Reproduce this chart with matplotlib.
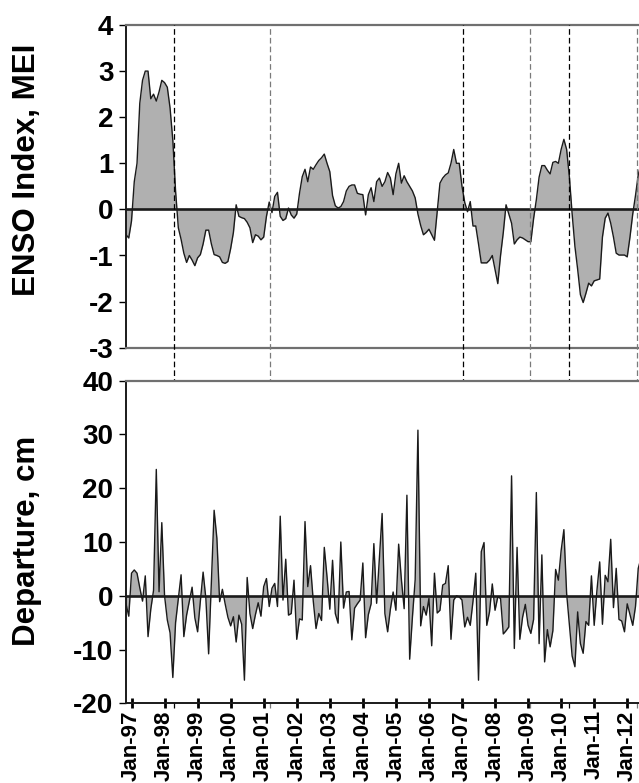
import matplotlib
matplotlib.use("Agg")
import matplotlib.pyplot as plt
import numpy as np

plt.rcParams['font.family'] = ['Liberation Sans', 'DejaVu Sans']

# Months counted from Jan-1997 (first record is Nov-1996)
start_month = -2

# Multivariate ENSO Index, monthly
mei = [
    -0.55, -0.62, -0.25, 0.6, 1.0, 2.3, 2.8, 3.0, 3.0, 2.4, 2.5, 2.35, 2.55, 2.8,
    2.75, 2.65, 2.2, 1.5, 0.4, -0.4, -0.65, -0.95, -1.15, -1.0, -1.1, -1.22, -1.05,
    -0.98, -0.75, -0.45, -0.45, -0.75, -0.98, -1.0, -1.03, -1.15, -1.17, -1.13,
    -0.85, -0.5, 0.1, -0.15, -0.18, -0.2, -0.28, -0.4, -0.72, -0.55, -0.58, -0.66,
    -0.6, -0.15, 0.16, -0.07, 0.28, 0.37, -0.15, -0.24, -0.2, 0.03, -0.12, -0.19,
    -0.1, 0.35, 0.71, 0.87, 0.6, 0.92, 0.87, 0.97, 1.06, 1.12, 1.2, 1.0, 0.82, 0.3,
    0.08, 0.03, 0.06, 0.17, 0.4, 0.5, 0.53, 0.53, 0.35, 0.33, 0.32, -0.12, 0.32,
    0.47, 0.17, 0.6, 0.68, 0.5, 0.6, 0.8, 0.68, 0.32, 0.77, 1.0, 0.57, 0.73, 0.6,
    0.5, 0.4, 0.25, -0.1, -0.35, -0.55, -0.5, -0.43, -0.55, -0.67, -0.05, 0.57,
    0.68, 0.75, 0.79, 1.0, 1.3, 1.0, 1.0, 0.5, 0.15, -0.05, 0.17, -0.36, -0.36,
    -0.75, -1.16, -1.16, -1.16, -1.1, -1.0, -1.3, -1.61, -1.0, -0.5, 0.1, -0.1,
    -0.3, -0.75, -0.66, -0.6, -0.62, -0.66, -0.7, -0.7, -0.2, 0.21, 0.7, 0.95,
    0.95, 0.85, 0.77, 1.02, 1.04, 1.0, 1.3, 1.52, 1.3, 0.7, -0.1, -0.8, -1.3,
    -1.85, -2.02, -1.82, -1.6, -1.66, -1.55, -1.53, -1.51, -0.6, -0.19, -0.08,
    -0.3, -0.6, -0.95, -0.99, -0.99, -0.99, -1.03, -0.6, -0.1, 0.3, 0.75, 1.0,
]

# Monthly water-level departure, cm
departure = [
    -1.5, -3.8, 4.2, 4.8, 4.2, 1.5, -1.0, 3.7, -7.6, -2.5, 1.0, 23.5, 0.75, 13.6,
    0.0, -4.5, -6.9, -15.2, -5.0, -0.5, 3.9, -7.6, -3.6, -1.0, 1.6, -4.1, -6.7,
    -1.0, 4.4, -0.5, -10.8, 2.5, 15.9, 10.7, -1.1, 1.2, -1.5, -4.0, -5.6, -3.9,
    -8.6, -3.6, -5.3, -15.7, 3.4, -3.3, -6.1, -3.5, -1.3, -3.8, 1.7, 3.2, -2.0,
    1.4, 2.3, -2.0, 14.8, -0.8, 6.8, -3.6, -3.3, 2.9, -8.1, -4.3, -4.5, 13.8, 1.7,
    5.6, -1.0, -6.1, -3.3, -4.6, 9.0, 3.5, -2.5, 6.6, -3.3, -5.1, 10.0, -2.3, 0.7,
    0.8, -8.2, -2.3, -1.5, -0.8, 6.1, -7.8, -3.5, -1.5, 9.7, -1.4, 7.0, 15.3,
    -3.3, -6.7, -2.5, 0.7, -2.7, 9.6, 3.0, -2.4, 18.7, -11.8, -4.0, 3.0, 30.8,
    -5.6, -2.0, -3.6, -0.5, -9.3, 4.2, -3.2, -2.7, 2.0, 2.3, 5.6, -8.1, -0.8, 0.0,
    -0.2, -0.8, -5.8, -4.0, -5.5, -1.0, 4.2, -15.7, 8.2, 9.9, -5.5, -3.0, 2.2,
    -2.7, -0.2, -0.5, -7.1, -6.5, -5.8, 22.3, -9.8, 9.0, -8.1, -4.0, -1.6, -5.5,
    -7.0, -4.4, 19.2, -8.9, 7.6, -12.3, -6.3, -9.5, -6.5, 4.9, 2.9, 8.4, 12.3, 0.4,
    -5.5, -11.2, -13.2, -3.0, -8.9, -10.7, -4.8, -5.5, 3.7, -5.5, 1.0, 6.3, -5.3,
    3.8, 2.6, 10.5, -2.2, 5.1, -4.4, -4.7, -6.7, -1.5, -3.5, -5.5, -2.0, 5.1, 7.0,
]

tick_years = list(range(1997, 2013))
tick_labels = ["Jan-%02d" % (y % 100) for y in tick_years]

# Event markers (months since Jan-1997) and their line colours
event_months = [15.25, 50.25, 120.3, 144.8, 158.8, 183.5]
event_colors = ["black", "#7a7a7a", "black", "#7a7a7a", "black", "#7a7a7a"]

months = np.arange(start_month, start_month + len(mei))
months2 = np.arange(start_month, start_month + len(departure))
tick_pos = [(y - 1997) * 12 for y in tick_years]

W, H = 639, 783
fig = plt.figure(figsize=(W / 100, H / 100), dpi=100)

x0 = 126
px_per_month = 2.754
xmin, xmax = -2, 186
ax_w = (xmax - xmin) * px_per_month

ax1 = fig.add_axes([x0 / W, (H - 347.7) / H, ax_w / W, 322.7 / H])
ax2 = fig.add_axes([x0 / W, (H - 703.3) / H, ax_w / W, 322.6 / H])

fill_c = "#b0b0b0"
for ax, xs, ys in ((ax1, months, mei), (ax2, months2, departure)):
    ax.fill_between(xs, ys, 0, color=fill_c, linewidth=0)
    ax.plot(xs, ys, color="#1a1a1a", lw=1.0)
    ax.axhline(0, color="#1a1a1a", lw=1.9, zorder=3)
    ax.set_xlim(xmin, xmax)
    ax.spines["right"].set_visible(False)
    ax.spines["top"].set_color("#707070")
    ax.spines["top"].set_linewidth(1.6)
    ax.spines["left"].set_color("#1a1a1a")
    ax.spines["left"].set_linewidth(1.4)
    ax.tick_params(axis="y", direction="out", length=5, width=1.0,
                   labelsize=20, pad=4, colors="black")

ax1.set_ylim(-3, 4)
ax1.set_yticks(range(-3, 5))
ax1.set_yticklabels([str(v) for v in range(-3, 5)], fontweight="bold")
ax1.spines["bottom"].set_color("#707070")
ax1.spines["bottom"].set_linewidth(1.6)
ax1.set_xticks([])

ax2.set_ylim(-20, 40)
ax2.set_yticks(range(-20, 41, 10))
ax2.set_yticklabels([str(v) for v in range(-20, 41, 10)], fontweight="bold")
ax2.spines["bottom"].set_color("#1a1a1a")
ax2.spines["bottom"].set_linewidth(1.4)
ax2.set_xticks(tick_pos)
ax2.set_xticklabels(tick_labels, rotation=90, fontsize=16, fontweight="bold")
ax2.tick_params(axis="x", direction="inout", length=7, width=2.0, pad=1.5)

# Dashed event lines spanning both panels
span_bottom = (347.7 - 708) / 322.7
for m, c in zip(event_months, event_colors):
    ax1.axvline(m, ymin=span_bottom, ymax=1, color=c, lw=0.9,
                linestyle=(0, (4.5, 2.5)), clip_on=False, zorder=4)

fig.text(27 / W, (H - 170) / H, "ENSO Index, MEI", rotation=90, ha="center",
         va="center", fontsize=22.5, fontweight="bold")
fig.text(27 / W, (H - 541) / H, "Departure, cm", rotation=90, ha="center",
         va="center", fontsize=22.5, fontweight="bold")

fig.savefig("out.png", dpi=100)
